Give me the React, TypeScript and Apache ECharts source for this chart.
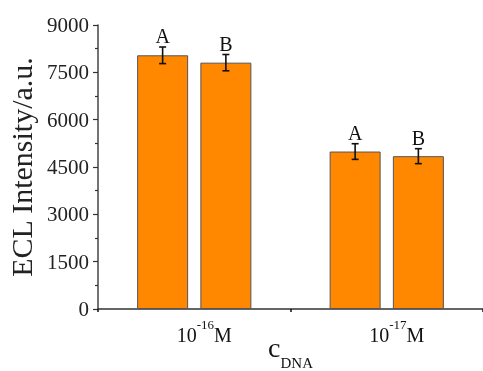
import React, { useEffect, useRef } from "react";
import * as echarts from "echarts";

const categories = ["10^-16M", "10^-17M"];
const seriesAValues = [8040, 4990];
const seriesBValues = [7807, 4843];
const seriesAErrors = [263, 248];
const seriesBErrors = [258, 237];
const seriesLetters = ["A", "B"];
const yTicks = { min: 0, max: 9000, interval: 1500 };

const FONT = "'Liberation Serif', 'Times New Roman', serif";
const BAR_W = 51;
const BAR_GAP_PCT = 24;

export default function App() {
  const ref = useRef<HTMLDivElement>(null);
  useEffect(() => {
    if (!ref.current) return;
    const chart = echarts.init(ref.current, null, { renderer: "svg" });
    const gap = (BAR_W * BAR_GAP_PCT) / 100;
    const off = BAR_W / 2 + gap / 2;
    const errData: any[] = [];
    const meta: { side: number; letter: string }[] = [];
    seriesAValues.forEach((v, i) => {
      errData.push([i, v, seriesAErrors[i]]);
      meta.push({ side: -1, letter: seriesLetters[0] });
    });
    seriesBValues.forEach((v, i) => {
      errData.push([i, v, seriesBErrors[i]]);
      meta.push({ side: 1, letter: seriesLetters[1] });
    });
    const barStyle = { color: "#FF8800", borderColor: "#555", borderWidth: 1 };
    chart.setOption({
      animation: false,
      grid: { left: 98, right: 0, top: 25, bottom: 62, containLabel: false, outerBoundsMode: "none" },
      xAxis: {
        type: "category",
        data: categories,
        axisLine: { lineStyle: { color: "#333", width: 1.5 } },
        axisTick: { show: true, length: 3, inside: false, lineStyle: { color: "#111", width: 1.5 } },
        axisLabel: {
          margin: 8,
          formatter: (v: string) => {
            const m = v.match(/^10\^(-?\d+)(.*)$/);
            if (!m) return v;
            return `{p|}{a|10}{s|${m[1]}}{b|${m[2]}}`;
          },
          rich: {
            p: { width: 20, lineHeight: 28 },
            a: { fontFamily: FONT, fontSize: 20, color: "#111", lineHeight: 28, verticalAlign: "bottom" },
            s: { fontFamily: FONT, fontSize: 13, color: "#111", lineHeight: 13, padding: [1, 0, 0, 0], verticalAlign: "top" },
            b: { fontFamily: FONT, fontSize: 20, color: "#111", lineHeight: 28, verticalAlign: "bottom" },
          },
        },
        name: "{c|c}{d|DNA}",
        nameLocation: "middle",
        nameGap: 24,
        nameMoveOverlap: false,
        nameTextStyle: {
          rich: {
            c: { fontFamily: FONT, fontSize: 28, color: "#111", lineHeight: 37, verticalAlign: "top" },
            d: { fontFamily: FONT, fontSize: 15, color: "#111", lineHeight: 15, verticalAlign: "bottom" },
          },
        },
      },
      yAxis: {
        type: "value",
        min: yTicks.min,
        max: yTicks.max,
        interval: yTicks.interval,
        splitLine: { show: false },
        axisLine: { show: true, lineStyle: { color: "#444", width: 1.5 } },
        axisTick: { show: true, length: 5, lineStyle: { color: "#333", width: 1.2 } },
        minorTick: { show: true, splitNumber: 2, length: 3, lineStyle: { color: "#333", width: 1.2 } },
        axisLabel: { fontFamily: FONT, fontSize: 21, color: "#222", margin: 9, formatter: (v: number) => String(v) },
        name: "ECL Intensity/a.u.",
        nameLocation: "middle",
        nameGap: 62,
        nameMoveOverlap: false,
        nameTextStyle: { fontFamily: FONT, fontSize: 30, color: "#222" },
      },
      series: [
        { type: "bar", data: seriesAValues, barWidth: BAR_W, barGap: BAR_GAP_PCT + "%", itemStyle: barStyle },
        { type: "bar", data: seriesBValues, barWidth: BAR_W, itemStyle: barStyle },
        {
          type: "custom",
          data: errData,
          z: 10,
          clip: false,
          encode: { x: 0, y: 1 },
          renderItem: (params: any, api: any) => {
            const m = meta[params.dataIndex];
            const c = api.value(0);
            const v = api.value(1);
            const e = api.value(2);
            const top = api.coord([c, v + e]);
            const bot = api.coord([c, v - e]);
            const x = top[0] + m.side * off;
            const cap = 3.5;
            const ls = { stroke: "#111", lineWidth: 1.6 };
            return {
              type: "group",
              children: [
                { type: "line", shape: { x1: x, y1: top[1], x2: x, y2: bot[1] }, style: ls },
                { type: "line", shape: { x1: x - cap, y1: top[1], x2: x + cap, y2: top[1] }, style: ls },
                { type: "line", shape: { x1: x - cap, y1: bot[1], x2: x + cap, y2: bot[1] }, style: ls },
                {
                  type: "text",
                  x: x,
                  y: top[1] - 1,
                  style: {
                    text: m.letter,
                    font: `20px ${FONT}`,
                    fill: "#111",
                    align: "center",
                    verticalAlign: "bottom",
                  },
                },
              ],
            };
          },
        },
      ],
    });
    return () => chart.dispose();
  }, []);
  return <div ref={ref} style={{ position: "fixed", left: 0, top: 0, width: 483, height: 371 }} />;
}
